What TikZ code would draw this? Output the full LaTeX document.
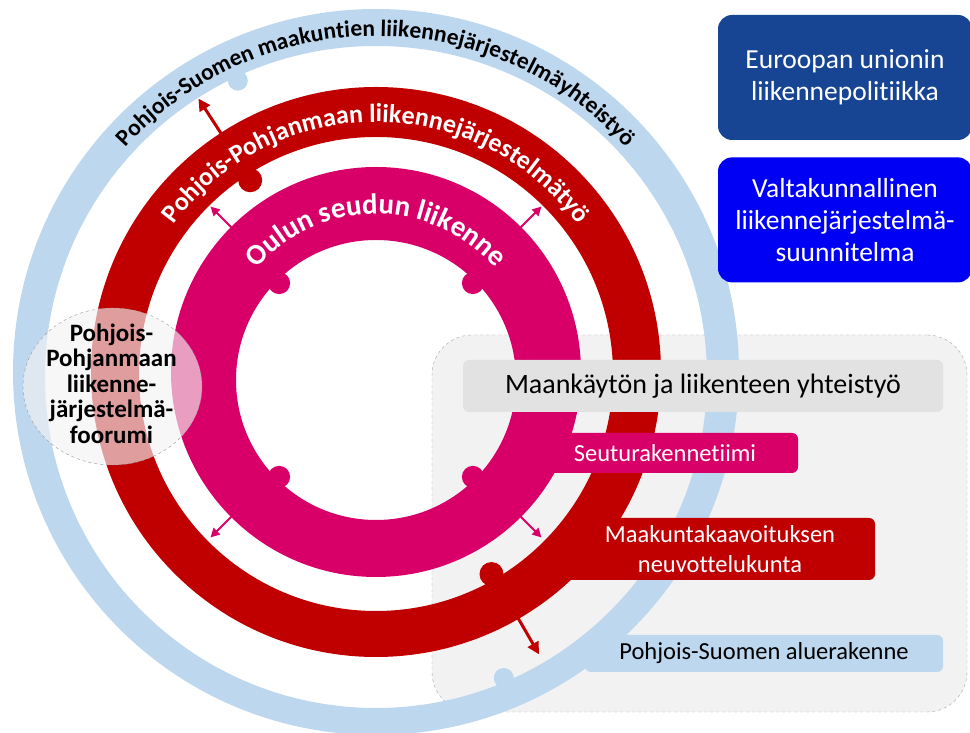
\documentclass[tikz,border=0pt]{standalone}
\usepackage{fontspec}
\setmainfont{Carlito}[Ligatures = NoCommon]
\usetikzlibrary{positioning}
\usetikzlibrary{decorations.text}
\usetikzlibrary{arrows.meta}
\definecolor{ringblue}{HTML}{BDD7EE}
\definecolor{ringred}{HTML}{C00000}
\definecolor{ringmag}{HTML}{D80068}
\definecolor{eublue}{HTML}{184593}
\definecolor{stateblue}{HTML}{0000F5}
\definecolor{panelgray}{HTML}{F2F2F2}
\definecolor{bargray}{HTML}{E2E2E2}

\begin{document}
\begin{tikzpicture}
[x = 1pt, y = 1pt,
ringtext/.style = {decorate, decoration = {text along path, text align = center, text = {#1}}},
redarrow/.style = {-{Triangle[length = 12pt, width = 12pt]}, line width = 3pt, ringred},
magarrow/.style = {-{Triangle[length = 9pt, width = 9pt]}, line width = 2pt, ringmag},
panel/.style = {rectangle, rounded corners = 40pt, draw = black!35, dashed, fill = panelgray, minimum width = 535pt, minimum height = 377pt},
bar/.style = {rectangle, rounded corners = 6pt, inner sep = 0pt, align = center, font = \fontsize{24.5}{30}\selectfont},
bigbox/.style = {rectangle, rounded corners = 14pt, text = white, align = center, minimum width = 254pt, minimum height = 125pt, font = \fontsize{27.5}{32}\selectfont},
forum/.style = {draw = black!40, dashed, fill = black!5, fill opacity = 0.65}]

\useasboundingbox (0, 0) rectangle (970, 733);
\coordinate (C) at (376, 361);

\node[panel] (panel) at (699.5, 209.5) {};

% outer ring
\fill[ringblue, even odd rule] (C) circle[radius = 363] ([yshift = -5]C) circle[radius = 331];
\foreach \a in {115, -67}
\fill[ringblue] ([yshift = -5, shift = {(\a:327)}]C) circle[radius = 10];
\path[ringtext = {|\bfseries\fontsize{23.5}{23.5}\selectfont|Pohjois-Suomen maakuntien liikennejärjestelmäyhteistyö}]
([shift = {(180:336)}]C) arc[start angle = 180, end angle = 0, radius = 336];

\node[bar, fill = ringblue, minimum width = 358pt, minimum height = 37pt] (region) at (764, 79.5) {Pohjois-Suomen aluerakenne};

% middle ring
\fill[ringred, even odd rule] (C) circle[radius = 285] ([yshift = -2]C) circle[radius = 237];
\foreach \a in {123, -60}
{
\fill[ringred] ([yshift = -2, shift = {(\a:231)}]C) circle[radius = 12];
\coordinate (ra\a) at ([shift = {(\a:283)}]C);
\coordinate (rb\a) at ([shift = {(\a:326)}]C);
\draw[redarrow] (ra\a) -- (rb\a);
}
\path[ringtext = {|\color{white}\bfseries\fontsize{26}{26}\selectfont|Pohjois-Pohjanmaan liikennejärjestelmätyö}]
([shift = {(180:250)}]C) arc[start angle = 180, end angle = 0, radius = 250];

\node[bar, fill = ringred, text = white, minimum width = 310pt, minimum height = 62pt] (board) at (720, 184) {Maakuntakaavoituksen\\neuvottelukunta};
\node[bar, fill = ringmag, text = white, minimum width = 266pt, minimum height = 40pt] (team) at (665, 280) {Seuturakennetiimi};

% inner ring
\fill[ringmag, even odd rule] (C) circle[radius = 205] ([yshift = -8]C) circle[radius = 140];
\foreach \a in {45, 135, 225, 315}
{
\fill[ringmag] ([yshift = -8, shift = {(\a:137)}]C) circle[radius = 11];
\coordinate (ma\a) at ([shift = {(\a:203)}]C);
\coordinate (mb\a) at ([shift = {(\a:234)}]C);
\draw[magarrow] (ma\a) -- (mb\a);
}
\path[ringtext = {|\color{white}\bfseries\fontsize{29}{29}\selectfont|Oulun seudun liikenne}]
([shift = {(180:158)}]C) arc[start angle = 180, end angle = 0, radius = 158];

\node[bar, fill = bargray, minimum width = 480pt, minimum height = 52pt, font = \fontsize{28}{32}\selectfont] (landuse) at (703, 347) {Maankäytön ja liikenteen yhteistyö};

\path[forum] (112.5, 346.5) ellipse[x radius = 89.5, y radius = 78.5];
\node[align = center, font = \bfseries\fontsize{25}{25.5}\selectfont] (forumtext) at (111.5, 349.5) {Pohjois-\\Pohjanmaan\\liikenne-\\järjestelmä-\\foorumi};

\node[bigbox, fill = eublue] (eu) at (845, 655.5) {Euroopan unionin\\liikennepolitiikka};
\node[bigbox, fill = stateblue] (state) [below = 17pt of eu] {Valtakunnallinen\\liikennejärjestelmä-\\suunnitelma};
\end{tikzpicture}
\end{document}
